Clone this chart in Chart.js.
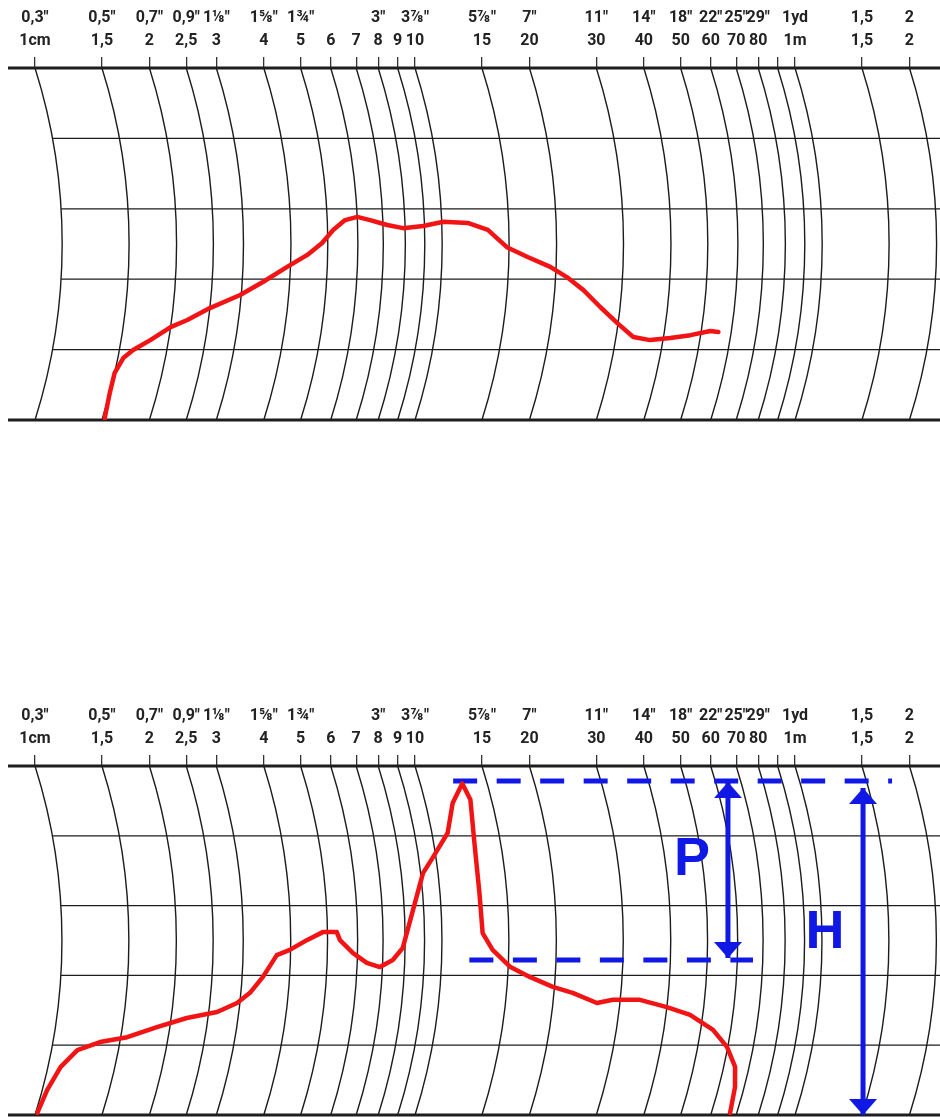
<!DOCTYPE html>
<html>
<head>
<meta charset="utf-8">
<script src="https://cdn.jsdelivr.net/npm/chart.js@4.4.1/dist/chart.umd.min.js"></script>
<style>
  html, body { margin: 0; padding: 0; background: #fff; }
  body { width: 940px; height: 1117px; position: relative; overflow: hidden; }
  canvas { position: absolute; left: 0; }
  #top { top: 0; }
  #bottom { top: 698px; }
</style>
</head>
<body>
<canvas id="top" width="940" height="430"></canvas>
<canvas id="bottom" width="940" height="419"></canvas>
<script>
// scale marks in cm, with the inch row above and the metric row below
const tickValues = [1, 1.5, 2, 2.5, 3, 4, 5, 6, 7, 8, 9, 10, 15, 20, 30, 40, 50, 60, 70, 80, 90, 100, 150, 200];
const inchLabels = ['0,3"', '0,5"', '0,7"', '0,9"', '1⅛"', '1⅝"', '1¾"', '', '', '3"', '', '3⅞"', '5⅞"', '7"',
  '11"', '14"', '18"', '22"', '25"', '29"', '', '1yd', '1,5', '2'];
const cmLabels = ['1cm', '1,5', '2', '2,5', '3', '4', '5', '6', '7', '8', '9', '10', '15', '20',
  '30', '40', '50', '60', '70', '80', '', '1m', '1,5', '2'];
const gridLevels = [20, 40, 60, 80];

// upper trace (distance in cm read along the arcs, level in % of chart height)
const topDist = [1.52, 1.50, 1.50, 1.55, 1.63, 1.79, 2.0, 2.2, 2.5, 2.98, 3.4, 3.92, 4.42, 4.83, 5.17, 5.57, 6.0,
  6.48, 7.18, 7.9, 8.93, 10.1, 11.7, 13.2, 14.8, 16.8, 19.3, 21.4, 23.8, 26.6, 29.8, 33.3, 37.0, 41.7, 47.0, 52.8, 55.5];
const topLevel = [0.5, 7.7, 13.4, 17.6, 19.9, 22.7, 26.4, 28.4, 31.8, 35.5, 39.2, 43.5, 46.9, 50.3, 54.0, 56.8, 57.7,
  56.8, 55.4, 54.5, 55.1, 56.3, 56.0, 54.0, 49.1, 46.3, 43.5, 40.6, 36.9, 32.1, 27.6, 23.6, 22.7, 23.3, 24.1, 25.3, 25.0];

// lower trace
const lowDist = [1.01, 1.03, 1.08, 1.17, 1.33, 1.56, 1.85, 2.2, 2.63, 2.95, 3.17, 3.4, 3.68, 3.98, 4.41, 4.86, 5.29,
  5.39, 5.84, 6.36, 6.89, 7.44, 7.89, 8.43, 9.13, 9.83, 11.0, 11.8, 12.9, 13.2, 12.8, 12.7, 12.8, 13.6, 15.2, 17.2,
  19.8, 22.4, 26.1, 28.7, 33.8, 40.0, 46.3, 53.9, 59.7, 64.3, 66.2, 67.2];
const lowLevel = [0.6, 7.2, 13.8, 18.6, 20.9, 22.3, 25.2, 27.8, 29.5, 32.1, 35.0, 39.5, 45.8, 47.3, 50.1, 52.4, 52.4,
  50.1, 46.4, 43.6, 42.4, 44.4, 47.9, 58.7, 69.3, 73.9, 80.8, 89.4, 95.0, 90.3, 77.9, 63.6, 52.1, 47.3, 42.4, 39.5,
  36.7, 35.0, 32.1, 33.0, 33.0, 30.9, 28.7, 24.4, 19.5, 13.8, 8.0, 0.6];

// P / H construction on the lower chart (straight, not on the arcs)
const peakLineDist = [12.6, 180];
const peakLineLevel = [95.7, 95.7];
const valleyLineDist = [13.9, 77.5];
const valleyLineLevel = [44.4, 44.4];
const pArrowDist = [66.6, 66.6];
const pArrowLevel = [95.4, 45.0];
const hArrowDist = [151, 151];
const hArrowLevel = [93.7, 0];
const letters = ['P', 'H'];
const letterDist = [53.6, 119.9];
const letterLevel = [73.1, 52.1];

const RED = '#f21414';
const BLUE = '#1018e6';
const INK = '#1c1c1c';
const SAG = 27 / 175; // bulge of the arcs relative to half the chart height

const pts = (xs, ys) => xs.map((x, i) => ({x: x, y: ys[i]}));

// horizontal shift of an arc at pixel height py
function arcOffset(area, py) {
  const h = (area.bottom - area.top) / 2;
  const s = SAG * h;
  const R = (h * h + s * s) / (2 * s);
  const dy = py - (area.top + h);
  return s - (R - Math.sqrt(Math.max(R * R - dy * dy, 0)));
}

function arrowHead(up) {
  const c = document.createElement('canvas');
  c.width = 28; c.height = 32;
  const g = c.getContext('2d');
  g.fillStyle = BLUE;
  g.beginPath();
  if (up) { g.moveTo(14, 16); g.lineTo(28, 32); g.lineTo(0, 32); }
  else { g.moveTo(14, 16); g.lineTo(28, 0); g.lineTo(0, 0); }
  g.closePath();
  g.fill();
  return c;
}
const upHead = arrowHead(true);
const downHead = arrowHead(false);

const arcGrid = {
  id: 'arcGrid',
  beforeDatasetsDraw(chart) {
    const {ctx, chartArea: a, scales: {x, y}} = chart;
    const h = (a.bottom - a.top) / 2;
    const s = SAG * h;
    const R = (h * h + s * s) / (2 * s);
    const t = Math.asin(h / R);
    ctx.save();
    ctx.strokeStyle = INK;
    ctx.lineWidth = 1.4;
    tickValues.forEach(v => {
      const x0 = x.getPixelForValue(v);
      ctx.beginPath();
      ctx.arc(x0 + s - R, a.top + h, R, -t, t);
      ctx.stroke();
    });
    ctx.lineWidth = 1.3;
    gridLevels.forEach(l => {
      const py = y.getPixelForValue(l);
      ctx.beginPath();
      ctx.moveTo(x.getPixelForValue(tickValues[0]) + arcOffset(a, py), py);
      ctx.lineTo(a.right, py);
      ctx.stroke();
    });
    ctx.lineWidth = 3;
    ctx.strokeStyle = '#1e1e1e';
    [0, 100].forEach(l => {
      const py = y.getPixelForValue(l);
      ctx.beginPath();
      ctx.moveTo(a.left, py);
      ctx.lineTo(a.right, py);
      ctx.stroke();
    });
    ctx.restore();
  }
};

// traces are drawn on the curved grid: shift each point along its arc
const arcShift = {
  id: 'arcShift',
  afterDatasetsUpdate(chart) {
    chart.data.datasets.forEach((ds, i) => {
      if (!ds.onArcs) return;
      chart.getDatasetMeta(i).data.forEach(p => { p.x += arcOffset(chart.chartArea, p.y); });
    });
  }
};

function letterPlugin(texts, dists, levels) {
  return {
    id: 'letters',
    afterDatasetsDraw(chart) {
      const {ctx, scales: {x, y}} = chart;
      ctx.save();
      ctx.fillStyle = BLUE;
      ctx.font = 'bold 54px "Liberation Sans", Arial, sans-serif';
      ctx.textAlign = 'center';
      ctx.textBaseline = 'middle';
      texts.forEach((t, i) => ctx.fillText(t, x.getPixelForValue(dists[i]), y.getPixelForValue(levels[i])));
      ctx.restore();
    }
  };
}

function makeChart(id, datasets, padBottom, extra) {
  return new Chart(document.getElementById(id), {
    type: 'scatter',
    data: { datasets: datasets },
    options: {
      responsive: false,
      animation: false,
      events: [],
      layout: { autoPadding: false, padding: { left: 8, right: 0, top: 0, bottom: padBottom } },
      plugins: { legend: { display: false }, tooltip: { enabled: false } },
      scales: {
        x: {
          type: 'logarithmic',
          position: 'top',
          min: 0.849,
          max: 240.7,
          afterBuildTicks: s => { s.ticks = tickValues.map(v => ({value: v})); },
          afterFit: s => { s.height = 68; },
          grid: { drawOnChartArea: false, drawTicks: true, tickLength: 11, color: '#333', lineWidth: 1.3 },
          border: { display: false },
          ticks: {
            autoSkip: false,
            maxRotation: 0,
            padding: 4,
            color: '#222',
            font: { family: "Roboto, 'DejaVu Sans Condensed', sans-serif", size: 16, weight: 'bold', lineHeight: 1.47 },
            callback: (v, i) => [inchLabels[i], cmLabels[i]]
          }
        },
        y: { type: 'linear', min: 0, max: 100, display: false }
      }
    },
    plugins: [arcGrid, arcShift].concat(extra ? [extra] : [])
  });
}

function trace(xs, ys) {
  return {
    data: pts(xs, ys), showLine: true, onArcs: true, borderColor: RED, borderWidth: 4.5,
    pointRadius: 0, borderJoinStyle: 'round', borderCapStyle: 'round'
  };
}
function dashed(xs, ys) {
  return {
    data: pts(xs, ys), showLine: true, borderColor: BLUE, borderWidth: 5,
    borderDash: [24, 19.5], pointRadius: 0, clip: false
  };
}
function arrow(xs, ys) {
  return {
    data: pts(xs, ys), showLine: true, borderColor: BLUE, borderWidth: 5,
    pointStyle: [upHead, downHead], pointRadius: 3, clip: false
  };
}

makeChart('top', [trace(topDist, topLevel)], 10);

makeChart('bottom', [
  trace(lowDist, lowLevel),
  dashed(peakLineDist, peakLineLevel),
  dashed(valleyLineDist, valleyLineLevel),
  arrow(pArrowDist, pArrowLevel),
  arrow(hArrowDist, hArrowLevel)
], 2, letterPlugin(letters, letterDist, letterLevel));
</script>
</body>
</html>
